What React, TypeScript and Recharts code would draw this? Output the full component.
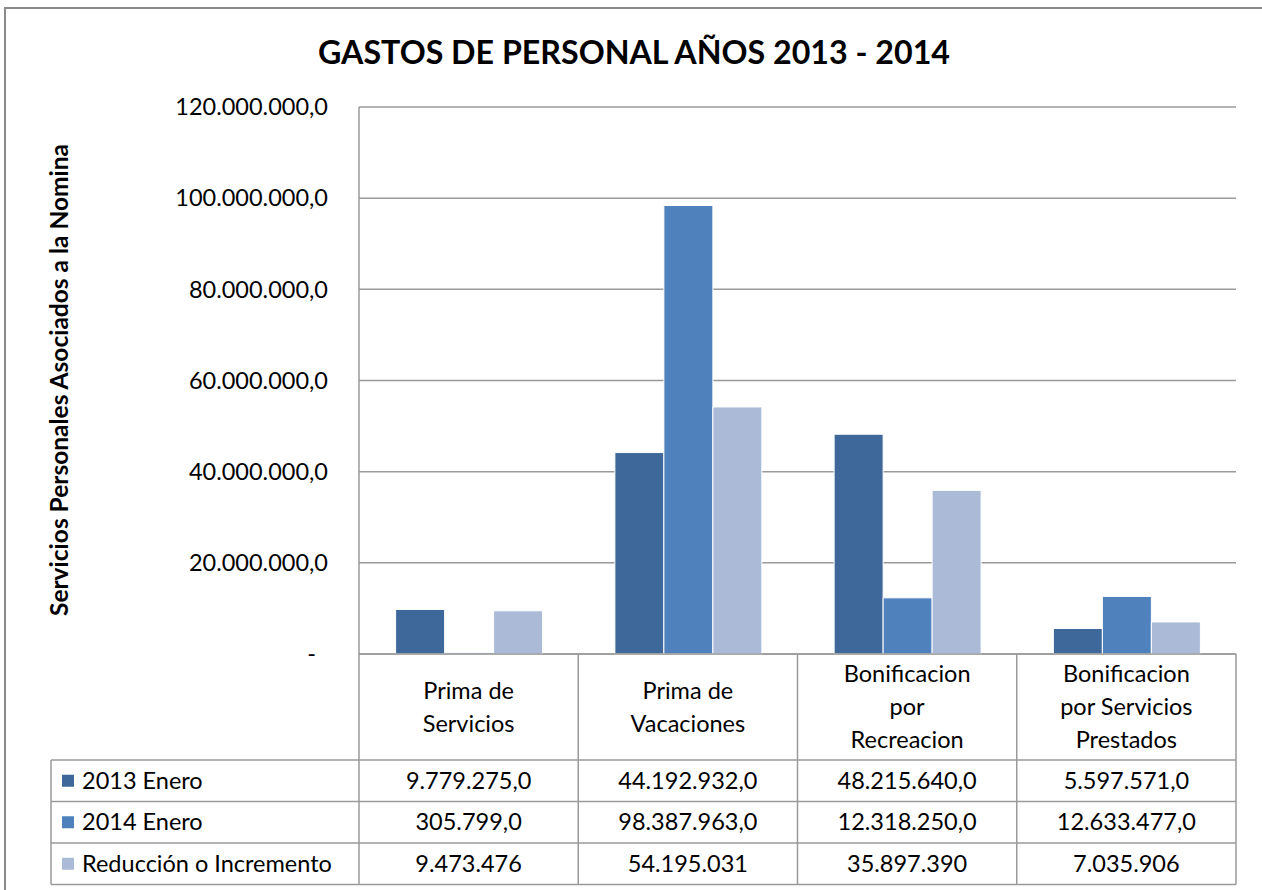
import { Bar, BarChart, CartesianGrid, XAxis, YAxis } from 'recharts';

const CATEGORY_LINES = [
  ['Prima de', 'Servicios'],
  ['Prima de', 'Vacaciones'],
  ['Bonificacion', 'por', 'Recreacion'],
  ['Bonificacion', 'por Servicios', 'Prestados'],
];
const CATEGORIES = CATEGORY_LINES.map((l) => l.join(' '));

const ENERO_2013 = [9779275, 44192932, 48215640, 5597571];
const ENERO_2014 = [305799, 98387963, 12318250, 12633477];
const REDUCCION = [9473476, 54195031, 35897390, 7035906];

const Y_TICKS = [0, 20000000, 40000000, 60000000, 80000000, 100000000, 120000000];

const SERIES = [
  { key: 'y2013', name: '2013 Enero', values: ENERO_2013, color: '#3F689A', decimals: 1 },
  { key: 'y2014', name: '2014 Enero', values: ENERO_2014, color: '#4F81BD', decimals: 1 },
  { key: 'red', name: 'Reducción o Incremento', values: REDUCCION, color: '#AABAD7', decimals: 0 },
];

const data = CATEGORIES.map((name, i) => {
  const row: Record<string, string | number> = { name };
  SERIES.forEach((s) => (row[s.key] = s.values[i]));
  return row;
});

// layout
const W = 1262;
const H = 890;
const PLOT_L = 359;
const PLOT_R = 1236;
const PLOT_T = 107;
const PLOT_B = 654;
const HEADER_B = 760;
const ROW_H = 41.5;
const TABLE_L = 51;
const Y_AXIS_W = 300;
const FONT = 'Lato, "Open Sans", sans-serif';
const GRID = '#9a9a9a';

function fmt(n: number, decimals: number) {
  const int = Math.round(n)
    .toString()
    .replace(/\B(?=(\d{3})+(?!\d))/g, '.');
  return decimals > 0 ? int + ',' + '0'.repeat(decimals) : int;
}

function YTick({ x, y, payload }: any) {
  const v = payload.value as number;
  return (
    <text
      x={v === 0 ? x - 12 : x}
      y={y}
      dy="0.35em"
      textAnchor="end"
      fontSize={23.5}
      fontFamily={FONT}
      fill="#000"
    >
      {v === 0 ? '-' : fmt(v, 1)}
    </text>
  );
}

function XTick({ x, y, index }: any) {
  const lines = CATEGORY_LINES[index] ?? [];
  const step = 33;
  const mid = y + (HEADER_B - PLOT_B) / 2;
  const start = mid - ((lines.length - 1) * step) / 2;
  return (
    <text textAnchor="middle" fontSize={23.5} fontFamily={FONT} fill="#000">
      {lines.map((l, i) => (
        <tspan key={i} x={x} y={start + i * step} dy="0.35em">
          {l}
        </tspan>
      ))}
    </text>
  );
}

function TableOverlay() {
  const colW = (PLOT_R - PLOT_L) / CATEGORIES.length;
  const tableB = HEADER_B + ROW_H * SERIES.length;
  const rowsY = SERIES.map((_, i) => HEADER_B + i * ROW_H);
  return (
    <svg
      width={W}
      height={H}
      style={{ position: 'absolute', left: 0, top: 0, pointerEvents: 'none' }}
    >
      <rect x={5} y={8} width={W + 10} height={H + 10} fill="none" stroke="#8a8a8a" strokeWidth={2} />
      <text
        x={634}
        y={64}
        textAnchor="middle"
        fontSize={32.2}
        fontWeight="bold"
        fontFamily={FONT}
        fill="#000"
      >
        GASTOS DE PERSONAL AÑOS 2013 - 2014
      </text>
      <text
        transform={`translate(68, 380) rotate(-90)`}
        textAnchor="middle"
        fontSize={24.5}
        fontWeight="bold"
        fontFamily={FONT}
        fill="#000"
      >
        Servicios Personales Asociados a la Nomina
      </text>
      {/* vertical lines */}
      {CATEGORIES.map((_, i) => (
        <line
          key={'v' + i}
          x1={PLOT_L + (i + 1) * colW}
          x2={PLOT_L + (i + 1) * colW}
          y1={PLOT_B}
          y2={tableB}
          stroke={GRID}
          strokeWidth={1.5}
        />
      ))}
      <line x1={PLOT_L} x2={PLOT_L} y1={PLOT_B} y2={tableB} stroke={GRID} strokeWidth={1.5} />
      <line x1={TABLE_L} x2={TABLE_L} y1={HEADER_B} y2={tableB} stroke={GRID} strokeWidth={1.5} />
      {/* horizontal lines */}
      {[...rowsY, tableB].map((y, i) => (
        <line key={'h' + i} x1={TABLE_L} x2={PLOT_R} y1={y} y2={y} stroke={GRID} strokeWidth={1.5} />
      ))}
      {SERIES.map((s, r) => {
        const cy = rowsY[r] + ROW_H / 2;
        return (
          <g key={s.key}>
            <rect x={62} y={cy - 6} width={12} height={12} fill={s.color} />
            <text x={82} y={cy} dy="0.35em" fontSize={23.5} fontFamily={FONT} fill="#000">
              {s.name}
            </text>
            {s.values.map((v, c) => (
              <text
                key={c}
                x={PLOT_L + (c + 0.5) * colW}
                y={cy}
                dy="0.35em"
                textAnchor="middle"
                fontSize={23.5}
                fontFamily={FONT}
                fill="#000"
              >
                {fmt(v, s.decimals)}
              </text>
            ))}
          </g>
        );
      })}
    </svg>
  );
}

export default function App() {
  return (
    <div style={{ position: 'absolute', left: 0, top: 0, width: W, height: H, background: '#fff' }}>
      <BarChart
        width={W}
        height={H}
        data={data}
        margin={{ top: PLOT_T, right: W - PLOT_R, bottom: H - HEADER_B, left: PLOT_L - Y_AXIS_W }}
        barCategoryGap="16.7%"
        barGap={0}
      >
        <CartesianGrid vertical={false} stroke={GRID} strokeWidth={1.5} />
        <XAxis
          dataKey="name"
          height={HEADER_B - PLOT_B}
          tickLine={false}
          tickSize={0}
          tickMargin={0}
          interval={0}
          axisLine={{ stroke: GRID, strokeWidth: 1.5 }}
          tick={<XTick />}
        />
        <YAxis
          width={Y_AXIS_W}
          domain={[0, 120000000]}
          ticks={Y_TICKS}
          interval={0}
          tickLine={false}
          tickSize={0}
          tickMargin={31}
          axisLine={{ stroke: GRID, strokeWidth: 1.5 }}
          tick={<YTick />}
        />
        {SERIES.map((s) => (
          <Bar
            key={s.key}
            dataKey={s.key}
            name={s.name}
            fill={s.color}
            stroke="#fff"
            strokeWidth={1}
            isAnimationActive={false}
          />
        ))}
      </BarChart>
      <TableOverlay />
    </div>
  );
}
